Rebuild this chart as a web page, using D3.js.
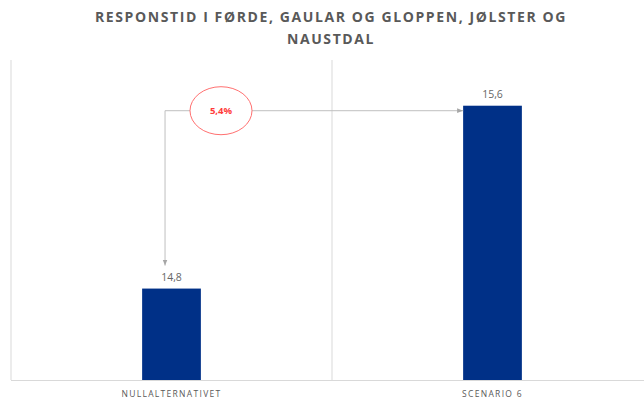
<!DOCTYPE html>
<html>
<head>
<meta charset="utf-8">
<script src="https://cdn.jsdelivr.net/npm/d3@7"></script>
<style>
  body { margin: 0; background: #fff; }
  text { font-family: "Open Sans", sans-serif; }
</style>
</head>
<body>
<div id="chart"></div>
<script>
var width = 644, height = 404;
var margin = { top: 60, right: -9, bottom: 24, left: 11 };

var categories = ["NULLALTERNATIVET", "SCENARIO 6"];
var values = [14.8, 15.6];
var valueLabels = ["14,8", "15,6"];
var titleLines = ["RESPONSTID I FØRDE, GAULAR OG GLOPPEN, JØLSTER OG", "NAUSTDAL"];
var changeLabel = "5,4%";
var yDomain = [14.4, 15.8];

var barColor = "#003087";
var gridColor = "#d9d9d9";
var textColor = "#595959";

var svg = d3.select("#chart")
    .append("svg")
    .attr("width", width)
    .attr("height", height);

var defs = svg.append("defs");
defs.append("marker")
    .attr("id", "arrow")
    .attr("viewBox", "0 0 10 10")
    .attr("refX", 10).attr("refY", 5)
    .attr("markerWidth", 6).attr("markerHeight", 6)
    .attr("orient", "auto-start-reverse")
    .append("path")
    .attr("d", "M0,1 L10,5 L0,9 Z")
    .attr("fill", "#a6a6a6");

// title
svg.append("g")
    .selectAll("text")
    .data(titleLines)
    .join("text")
    .attr("x", 331)
    .attr("y", function (d, i) { return 22 + i * 22; })
    .attr("text-anchor", "middle")
    .attr("font-size", 14)
    .attr("font-weight", "bold")
    .attr("letter-spacing", 1.6)
    .attr("fill", textColor)
    .text(function (d) { return d; });

var x = d3.scaleBand()
    .domain(categories)
    .range([margin.left, width - margin.right])
    .paddingInner(0)
    .paddingOuter(0);

var y = d3.scaleLinear()
    .domain(yDomain)
    .range([height - margin.bottom, margin.top]);

var barW = x.bandwidth() * 0.183;

// frame and divider
var g = svg.append("g");
g.append("line")
    .attr("x1", margin.left).attr("x2", margin.left)
    .attr("y1", margin.top).attr("y2", y(yDomain[0]))
    .attr("stroke", gridColor);
g.append("line")
    .attr("x1", x(categories[1])).attr("x2", x(categories[1]))
    .attr("y1", margin.top).attr("y2", y(yDomain[0]))
    .attr("stroke", gridColor);
g.append("line")
    .attr("x1", margin.left).attr("x2", width)
    .attr("y1", y(yDomain[0]) + 0.5).attr("y2", y(yDomain[0]) + 0.5)
    .attr("stroke", gridColor);

// bars
svg.append("g")
    .selectAll("rect")
    .data(values)
    .join("rect")
    .attr("x", function (d, i) { return x(categories[i]) + x.bandwidth() / 2 - barW / 2; })
    .attr("y", function (d) { return y(d); })
    .attr("width", barW)
    .attr("height", function (d) { return y(yDomain[0]) - y(d); })
    .attr("fill", barColor);

// value labels
svg.append("g")
    .selectAll("text")
    .data(values)
    .join("text")
    .attr("x", function (d, i) { return x(categories[i]) + x.bandwidth() / 2; })
    .attr("y", function (d) { return y(d) - 8; })
    .attr("text-anchor", "middle")
    .attr("font-size", 10.5)
    .attr("fill", "#666")
    .text(function (d, i) { return valueLabels[i]; });

// category labels
svg.append("g")
    .selectAll("text")
    .data(categories)
    .join("text")
    .attr("x", function (d) { return x(d) + x.bandwidth() / 2; })
    .attr("y", y(yDomain[0]) + 17)
    .attr("text-anchor", "middle")
    .attr("font-size", 8.5)
    .attr("letter-spacing", 1.3)
    .attr("fill", textColor)
    .text(function (d) { return d; });

// change annotation
var x0 = x(categories[0]) + x.bandwidth() / 2 - barW / 2 + barW * 0.39;
var x1 = x(categories[1]) + x.bandwidth() / 2 - barW / 2;
var yTop = y(values[1]) + 5;
var yEnd = y(values[0]) - 23;

svg.append("path")
    .attr("d", "M" + x0 + "," + yEnd + " L" + x0 + "," + yTop + " L" + x1 + "," + yTop)
    .attr("fill", "none")
    .attr("stroke", "#bfbfbf")
    .attr("stroke-width", 1)
    .attr("marker-start", "url(#arrow)")
    .attr("marker-end", "url(#arrow)");

var ex = 221;
svg.append("ellipse")
    .attr("cx", ex)
    .attr("cy", yTop)
    .attr("rx", 31)
    .attr("ry", 24)
    .attr("fill", "#fff")
    .attr("stroke", "#ff7070")
    .attr("stroke-width", 1);

svg.append("text")
    .attr("x", ex)
    .attr("y", yTop + 3.5)
    .attr("text-anchor", "middle")
    .attr("font-size", 9.5)
    .attr("font-weight", "bold")
    .attr("fill", "#ff3b3b")
    .text(changeLabel);
</script>
</body>
</html>
